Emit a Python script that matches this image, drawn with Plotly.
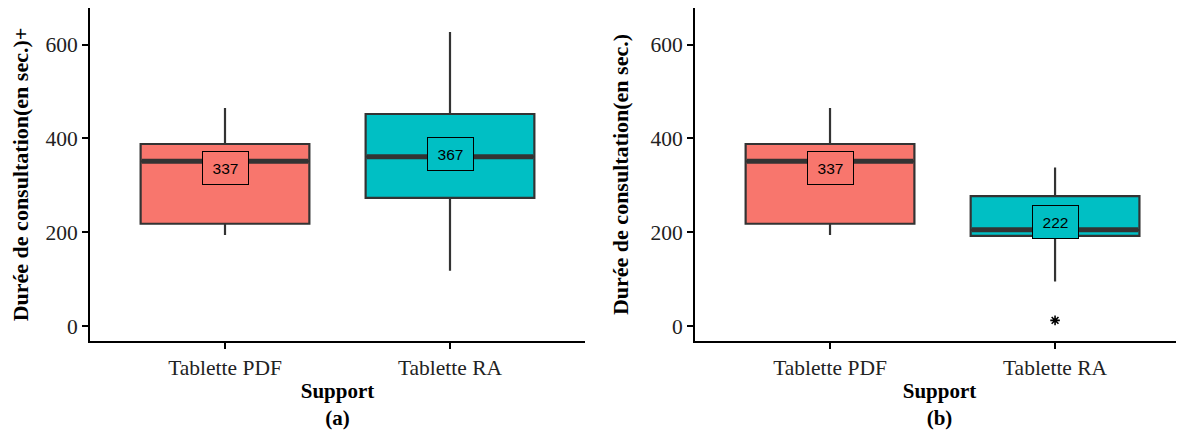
import plotly.graph_objects as go

categories = ["Tablette PDF", "Tablette RA"]
cat_pos = [1, 2]
colors = ["#F8766D", "#00BFC4"]

# Panel (a)
a_lower = [194, 118]
a_q1 = [218, 273]
a_median = [351, 361]
a_q3 = [388, 452]
a_upper = [465, 627]
a_mean_labels = [337, 367]

# Panel (b)
b_lower = [194, 95]
b_q1 = [218, 192]
b_median = [351, 205]
b_q3 = [388, 277]
b_upper = [465, 338]
b_mean_labels = [337, 222]
b_outlier_x = [2]
b_outlier_y = [12]

y_ticks = [0, 200, 400, 600]

BOX_W = 0.75
LINE = "#333333"
SERIF = "Liberation Serif, Times New Roman, serif"
SANS = "Liberation Sans, Arial, sans-serif"

# page body has an 8px margin: the figure is sized/positioned to compensate
W, H = 1176, 422

fig = go.Figure()

def add_panel(xa, ya, lower, q1, med, q3, upper, labels):
    for i in range(len(categories)):
        fig.add_trace(go.Box(
            x=[cat_pos[i]], lowerfence=[lower[i]], q1=[q1[i]], median=[med[i]],
            q3=[q3[i]], upperfence=[upper[i]], width=BOX_W, whiskerwidth=0,
            fillcolor=colors[i], line=dict(color=LINE, width=2.2),
            boxpoints=False, xaxis=xa, yaxis=ya, showlegend=False, hoverinfo="skip"))
        fig.add_trace(go.Scatter(
            x=[cat_pos[i] - BOX_W / 2 + 0.005, cat_pos[i] + BOX_W / 2 - 0.005],
            y=[med[i], med[i]], mode="lines", line=dict(color=LINE, width=5),
            xaxis=xa, yaxis=ya, showlegend=False, hoverinfo="skip"))
        fig.add_annotation(
            x=cat_pos[i], y=labels[i], xref=xa, yref=ya, text=str(labels[i]),
            showarrow=False, font=dict(family=SANS, size=15.5, color="black"),
            width=31, height=18,
            bgcolor=colors[i], bordercolor="black", borderwidth=1, borderpad=7)

add_panel("x", "y", a_lower, a_q1, a_median, a_q3, a_upper, a_mean_labels)
add_panel("x2", "y2", b_lower, b_q1, b_median, b_q3, b_upper, b_mean_labels)

fig.add_trace(go.Scatter(
    x=b_outlier_x, y=b_outlier_y, mode="markers",
    marker=dict(symbol="asterisk-open", size=8, color="black",
                line=dict(color="black", width=1.6)),
    xaxis="x2", yaxis="y2", showlegend=False, hoverinfo="skip"))

axis_common = dict(showgrid=False, zeroline=False, showline=True, linecolor="black",
                   linewidth=2, ticks="outside", ticklen=6, tickwidth=2, tickcolor="black",
                   tickfont=dict(family=SERIF, size=21.5, color="#222222"))
title_font = dict(family=SERIF, size=22, color="black")
xtitle_font = dict(family=SERIF, size=21, color="black")

fig.update_layout(
    width=W, height=H,
    margin=dict(l=0, r=0, t=0, b=86),
    paper_bgcolor="white", plot_bgcolor="white",
    xaxis=dict(domain=[82 / W, 577 / W], range=[0.4, 2.6],
               tickvals=cat_pos, ticktext=categories,
               title=dict(text="<b>Support</b><br><b>(a)</b>", standoff=8, font=xtitle_font),
               anchor="y", **axis_common),
    yaxis=dict(domain=[0, 1], range=[-32, 678], tickvals=y_ticks,
               title=dict(text="<b>Durée de consultation(en sec.)+</b>", standoff=16,
                          font=title_font),
               anchor="x", **axis_common),
    xaxis2=dict(domain=[687 / W, 1], range=[0.4, 2.573],
                tickvals=cat_pos, ticktext=categories,
                title=dict(text="<b>Support</b><br><b>(b)</b>", standoff=8, font=xtitle_font),
                anchor="y2", **axis_common),
    yaxis2=dict(domain=[0, 1], range=[-32, 678], tickvals=y_ticks,
                title=dict(text="<b>Durée de consultation(en sec.)</b>", standoff=16,
                           font=title_font),
                anchor="x2", **axis_common),
)

fig.write_html("out.html")
